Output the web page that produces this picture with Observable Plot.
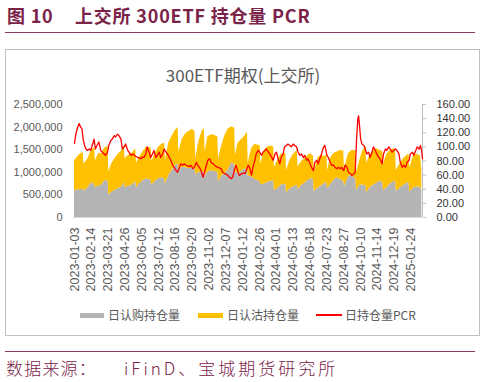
<!DOCTYPE html>
<html><head><meta charset="utf-8">
<script src="https://cdn.jsdelivr.net/npm/d3@7"></script>
<script src="https://cdn.jsdelivr.net/npm/@observablehq/plot@0.6"></script>
<style>
body{margin:0;background:#fff;}
#wrap{position:relative;width:486px;height:382px;overflow:hidden;font-family:"Noto Sans CJK SC","Noto Sans",sans-serif;background:#fff;}
.abs{position:absolute;white-space:nowrap;}
#fig,#ttl{top:4px;font-size:18px;font-weight:700;color:#7b2249;line-height:22px;letter-spacing:0.8px;}
.hr{position:absolute;left:5px;width:470px;height:1px;background:#8c3a63;}
#box{position:absolute;left:5px;top:49px;width:473px;height:285px;border:1px solid #bfbfbf;}
#inner{left:0;width:486px;text-align:center;top:64px;font-size:17px;color:#595959;line-height:22px;}
#chart{position:absolute;left:0;top:90px;}
#chart svg{overflow:visible;}
.lg{font-size:12px;color:#595959;line-height:14px;top:308px;}
.src{top:357px;font-size:17px;font-weight:300;color:#7b2249;line-height:22px;}
</style></head><body>
<div id="wrap">
  <div class="abs" id="fig" style="left:7px">图 10</div>
  <div class="abs" id="ttl" style="left:75px">上交所 300ETF 持仓量 PCR</div>
  <div class="hr" style="top:32px"></div>
  <div id="box"></div>
  <div class="abs" id="inner">300ETF期权(上交所)</div>
  <div id="chart"></div>
  <div class="abs" style="left:80px;top:313px;width:24px;height:5px;background:#b4b4b4"></div>
  <div class="abs lg" style="left:108px">日认购持仓量</div>
  <div class="abs" style="left:198px;top:313px;width:25px;height:5px;background:#ffc000"></div>
  <div class="abs lg" style="left:227px">日认沽持仓量</div>
  <div class="abs" style="left:316px;top:314px;width:26px;height:2px;background:#ff0000"></div>
  <div class="abs lg" style="left:345px">日持仓量PCR</div>
  <div class="hr" style="top:351px"></div>
  <div class="abs src" style="left:6px;letter-spacing:1.2px">数据来源：</div>
  <div class="abs src" style="left:124px;letter-spacing:3px">iFinD、宝城期货研究所</div>
</div>
<script>
// x-axis tick labels (trading-day index -> date)
const tickDays = [0,25,50,75,100,125,150,175,200,225,250,275,300,325,350,375,400,425,450,475,500];
const tickDates = ["2023-01-03","2023-02-14","2023-03-21","2023-04-26","2023-06-05","2023-07-12","2023-08-16","2023-09-20","2023-11-02","2023-12-07","2024-01-12","2024-02-26","2024-04-01","2024-05-13","2024-06-18","2024-07-23","2024-08-27","2024-10-10","2024-11-14","2024-12-19","2025-01-24"];

// open interest (trading-day index)
const days = [0,5,10,13,14,20,25,30,31,36,40,45,50,51,55,60,65,70,74,75,80,85,91,92,97,102,107,114,115,120,125,130,134,135,140,145,150,154,155,160,165,170,175,179,180,185,190,193,194,198,203,208,213,214,218,223,228,233,238,239,243,248,253,257,258,263,268,273,276,277,282,287,292,296,297,302,307,314,315,320,325,331,332,338,344,350,355,356,362,367,372,375,376,380,385,390,395,400,401,407,412,418,419,424,428,433,434,439,444,449,454,458,459,464,469,474,477,478,484,490,494,497,498,504,509,514,516];
const callOI = [600000,610000,620000,630000,580000,660000,770000,730000,650000,700000,710000,820000,800000,490000,560000,600000,640000,670000,780000,660000,690000,710000,800000,660000,750000,820000,860000,820000,720000,800000,860000,880000,860000,740000,930000,1040000,1150000,1190000,1050000,1110000,1100000,1080000,1090000,1100000,950000,1000000,1000000,1000000,920000,1000000,1040000,1020000,1000000,780000,900000,970000,1040000,1200000,1180000,1020000,970000,1020000,1080000,1050000,920000,900000,840000,820000,780000,720000,740000,780000,800000,820000,600000,640000,720000,740000,550000,630000,680000,720000,620000,720000,780000,860000,840000,580000,650000,700000,760000,770000,640000,720000,820000,880000,840000,800000,680000,900000,930000,850000,600000,720000,720000,700000,550000,660000,720000,760000,800000,780000,600000,660000,740000,790000,810000,580000,660000,720000,760000,780000,560000,660000,680000,670000,600000];
const putOI = [650000,740000,800000,800000,600000,640000,720000,820000,600000,720000,700000,720000,780000,520000,620000,700000,760000,800000,820000,640000,680000,700000,720000,540000,600000,640000,700000,720000,520000,620000,700000,740000,780000,520000,720000,760000,780000,800000,400000,620000,750000,820000,860000,800000,350000,700000,920000,970000,530000,780000,790000,800000,780000,520000,650000,830000,910000,800000,800000,350000,680000,700000,720000,840000,280000,620000,780000,780000,800000,460000,740000,780000,780000,740000,500000,640000,680000,680000,490000,630000,720000,760000,500000,530000,550000,550000,520000,420000,680000,670000,590000,610000,400000,580000,590000,570000,640000,670000,400000,510000,550000,630000,400000,550000,740000,880000,650000,720000,760000,760000,680000,680000,590000,740000,740000,730000,690000,460000,540000,600000,610000,620000,540000,720000,720000,690000,450000];

// PCR (trading-day index)
const pcrDays = [0,2,4,7,9,11,13,15,17,19,22,24,27,29,31,34,36,39,42,44,46,49,51,54,56,59,61,64,66,69,71,74,76,79,81,84,87,89,92,94,97,99,101,103,106,108,111,113,116,118,121,123,126,128,131,133,136,138,141,143,146,148,151,153,156,158,161,163,166,168,171,173,176,178,181,183,186,188,191,193,196,198,201,203,206,208,211,213,216,218,220,223,226,228,230,233,235,238,240,243,245,248,251,253,255,258,260,263,265,268,270,273,275,278,280,283,285,288,290,293,295,298,300,302,305,307,310,312,315,317,320,322,325,327,330,332,335,337,340,342,345,347,350,352,355,357,360,362,365,367,370,372,375,377,380,382,385,387,390,392,395,397,400,402,405,407,410,412,415,417,419,421,422,423,425,427,430,432,434,437,439,442,444,447,449,452,454,457,459,462,464,467,469,472,474,477,479,482,484,487,489,492,494,497,499,502,504,507,509,512,514,516,517];
const pcr = [105,118,126,133,128,126,110,102,97,95,97,95,104,111,97,103,107,95,92,90,88,92.5,102,109,111,116,114,118,116,111,97,100,104,95,92.5,88,90,88,86,85,84,83,86,85,90,100,92.5,85,90,95,85,88,92.5,85,90,97,92.5,90,85,81,74,71,66.5,64,71,76,74,76,74,73,72,74,69,71,78,74,70,66.5,57,64,74,81,83,78,76,74,72,71,70,69,64,62,61,59.5,57,55,57,69,74,64,59.5,62,63,62,66,74,71,60,71,81,90,95,92.5,88,92.5,95,97,92.5,90,85,81,90,92.5,85,76,85,90,100,102,104,102,100,104,102,100,92.5,88,90,85,88,81,83,76,71,66.5,78,81,76,85,90,100,102,88,85,78,74,74,71,69,71,69,71,66.5,74,71,64,62,59.5,62,64,110,140,144,135,112,104,102,97,90,92.5,85,92.5,100,95,90,85,83,76,90,97,95,100,97,92.5,95,97,95,90,78,71,74,71,78,81,90,92.5,88,95,100,97,102,92.5,83];

const pcrTicks = [0,20,40,60,80,100,120,140,160];
const yTicks = [0,500000,1000000,1500000,2000000,2500000];
const K = 2500000 / 160; // right axis -> left axis

const CALL = "日认购持仓量", PUT = "日认沽持仓量";
const rows = [];
days.forEach((d, i) => rows.push({day: d, series: CALL, value: callOI[i]}));
days.forEach((d, i) => rows.push({day: d, series: PUT, value: putOI[i]}));
const pcrRows = pcrDays.map((d, i) => ({day: d, pcr: pcr[i]}));

const chart = Plot.plot({
  width: 486, height: 210,
  marginTop: 14, marginBottom: 83, marginLeft: 73, marginRight: 64,
  style: {fontFamily: "'Liberation Sans', Arial, sans-serif", fontSize: "11px", color: "#595959", background: "transparent"},
  x: {domain: [-1.5, 517], axis: null, label: null},
  y: {domain: [0, 2500000], axis: null, label: null},
  color: {domain: [CALL, PUT], range: ["#b4b4b4", "#ffc000"]},
  marks: [
    Plot.areaY(rows, {x: "day", y: "value", fill: "series", order: [CALL, PUT], curve: "linear"}),
    Plot.ruleY([0], {stroke: "#d9d9d9"}),
    Plot.ruleX([517], {stroke: "#bfbfbf"}),
    Plot.lineY(pcrRows, {x: "day", y: d => d.pcr * K, stroke: "#ff0000", strokeWidth: 1.3}),
    Plot.axisY({anchor: "left", label: null, ticks: yTicks, tickSize: 0, tickPadding: 11, tickFormat: d3.format(","), fontSize: 11, fill: "#595959"}),
    Plot.axisY({anchor: "right", label: null, ticks: pcrTicks.map(t => t * K), tickSize: 3, tickPadding: 11, stroke: "#bfbfbf",
      tickFormat: d => (d / K).toFixed(2), fontSize: 11, fill: "#333333"}),
    Plot.axisX({label: null, ticks: tickDays, tickRotate: -90, tickSize: 0, tickPadding: 10,
      tickFormat: d => tickDates[tickDays.indexOf(d)], fontSize: 12.5, fill: "#595959"})
  ]
});
document.getElementById("chart").appendChild(chart);
</script>
</body></html>
